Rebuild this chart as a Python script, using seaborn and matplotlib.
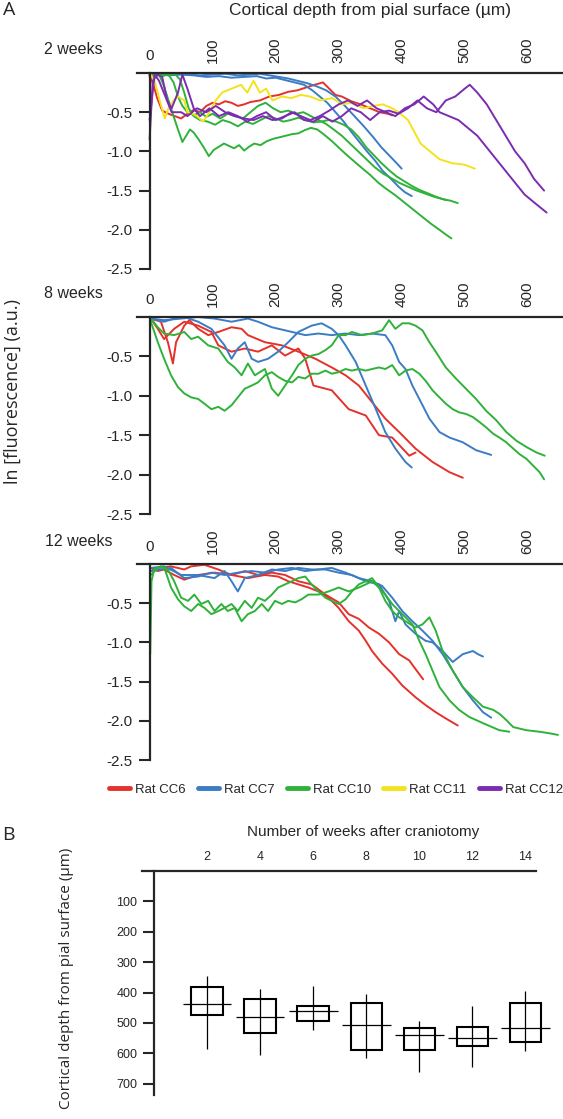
import numpy as np
import pandas as pd
import matplotlib
matplotlib.use("Agg")
import matplotlib.pyplot as plt
from matplotlib.lines import Line2D
import seaborn as sns

# ---- Panel A data: depth (um) vs ln[fluorescence] ----
rats = ["Rat CC6", "Rat CC7", "Rat CC10", "Rat CC11", "Rat CC12"]
rat_colors = ["#e4312b", "#3b7cc4", "#2fb23a", "#f4e21d", "#7a2db0"]
depth_ticks = [0, 100, 200, 300, 400, 500, 600]
ln_ticks = [-0.5, -1.0, -1.5, -2.0, -2.5]

# 2 weeks
w2_cc6 = [(0, -0.03), (6, -0.15), (12, -0.32), (20, -0.48), (30, -0.52), (40, -0.55), (50, -0.58),
          (60, -0.52), (70, -0.47), (80, -0.5), (90, -0.42), (100, -0.38), (110, -0.4), (120, -0.36),
          (130, -0.38), (140, -0.42), (150, -0.4), (160, -0.37), (175, -0.35), (190, -0.3), (205, -0.28),
          (220, -0.24), (235, -0.22), (250, -0.18), (262, -0.15), (275, -0.12), (285, -0.2), (295, -0.28),
          (305, -0.3), (320, -0.36), (335, -0.4), (350, -0.45), (365, -0.5), (378, -0.52), (385, -0.54)]
w2_cc7_a = [(0, -0.02), (15, -0.01), (30, -0.03), (50, -0.02), (70, -0.03), (90, -0.05), (110, -0.04),
            (130, -0.06), (150, -0.05), (170, -0.04), (185, -0.07), (200, -0.06), (215, -0.09), (230, -0.12),
            (245, -0.15), (258, -0.22), (270, -0.3), (282, -0.38), (295, -0.5), (308, -0.62), (320, -0.75),
            (333, -0.88), (345, -1.0), (358, -1.12), (370, -1.25), (383, -1.35), (395, -1.45), (405, -1.52),
            (416, -1.57)]
w2_cc7_b = [(0, -0.04), (20, -0.02), (40, -0.01), (60, -0.02), (80, -0.03), (100, -0.02), (120, -0.01),
            (140, -0.03), (160, -0.02), (175, -0.01), (190, -0.03), (205, -0.05), (220, -0.07), (235, -0.1),
            (250, -0.13), (265, -0.17), (280, -0.22), (295, -0.3), (310, -0.42), (325, -0.55), (340, -0.68),
            (355, -0.82), (368, -0.95), (380, -1.05), (392, -1.15), (400, -1.22)]
w2_cc10_a = [(0, -0.02), (8, -0.05), (15, -0.02), (22, -0.15), (30, -0.35), (38, -0.55), (45, -0.72),
             (52, -0.88), (58, -0.8), (64, -0.72), (70, -0.76), (78, -0.85), (86, -0.95), (94, -1.06),
             (102, -0.98), (110, -0.94), (118, -0.9), (126, -0.93), (134, -0.96), (142, -0.92), (150, -0.99),
             (158, -0.94), (166, -0.9), (176, -0.92), (186, -0.87), (196, -0.84), (206, -0.82), (216, -0.8),
             (226, -0.78), (236, -0.77), (246, -0.73), (256, -0.7), (266, -0.72), (276, -0.78), (288, -0.86),
             (300, -0.95), (312, -1.04), (325, -1.13), (338, -1.22), (350, -1.3), (363, -1.4), (376, -1.48),
             (390, -1.56), (404, -1.65), (418, -1.74), (432, -1.83), (446, -1.92), (460, -2.0), (470, -2.06),
             (479, -2.11)]
w2_cc10_b = [(0, -0.03), (10, -0.02), (20, -0.04), (30, -0.02), (38, -0.12), (45, -0.3), (52, -0.42),
             (60, -0.5), (70, -0.54), (80, -0.5), (90, -0.56), (100, -0.52), (112, -0.58), (124, -0.52),
             (136, -0.55), (148, -0.58), (160, -0.5), (172, -0.42), (184, -0.38), (196, -0.45), (208, -0.5),
             (220, -0.48), (232, -0.52), (244, -0.5), (256, -0.55), (268, -0.6), (280, -0.65), (292, -0.72),
             (305, -0.8), (318, -0.9), (331, -1.0), (344, -1.1), (357, -1.2), (370, -1.28), (383, -1.34),
             (396, -1.4), (410, -1.45), (424, -1.5), (438, -1.54), (452, -1.58), (466, -1.61), (478, -1.63),
             (489, -1.66)]
w2_cc10_c = [(0, -0.05), (10, -0.03), (20, -0.01), (30, -0.03), (40, -0.01), (48, -0.08), (55, -0.25),
             (62, -0.45), (70, -0.55), (80, -0.6), (92, -0.62), (104, -0.66), (116, -0.6), (128, -0.63),
             (140, -0.68), (152, -0.62), (164, -0.65), (176, -0.6), (188, -0.55), (200, -0.58), (212, -0.62),
             (224, -0.6), (236, -0.57), (248, -0.6), (260, -0.63), (272, -0.62), (284, -0.6), (296, -0.62),
             (308, -0.66), (320, -0.72), (332, -0.82), (344, -0.95), (356, -1.05), (368, -1.15), (380, -1.24),
             (392, -1.32), (404, -1.38), (416, -1.44), (428, -1.49), (440, -1.53), (452, -1.57), (462, -1.6),
             (470, -1.62)]
w2_cc11 = [(0, -0.0), (8, -0.1), (16, -0.35), (24, -0.58), (30, -0.45), (38, -0.35), (45, -0.3), (55, -0.35),
           (60, -0.5), (68, -0.52), (75, -0.55), (85, -0.62), (95, -0.5), (105, -0.35), (115, -0.25),
           (130, -0.2), (145, -0.15), (155, -0.25), (165, -0.1), (175, -0.25), (185, -0.2), (195, -0.35),
           (210, -0.3), (225, -0.32), (240, -0.28), (255, -0.3), (270, -0.35), (290, -0.32), (305, -0.4),
           (320, -0.38), (340, -0.45), (355, -0.42), (370, -0.4), (385, -0.45), (395, -0.5), (410, -0.6),
           (420, -0.75), (430, -0.9), (445, -1.0), (460, -1.1), (480, -1.15), (500, -1.17), (516, -1.22)]
w2_cc12_a = [(0, -0.85), (5, -0.1), (12, -0.02), (20, -0.05), (28, -0.35), (35, -0.45), (45, -0.25),
             (52, -0.02), (60, -0.2), (70, -0.45), (80, -0.55), (95, -0.45), (110, -0.55), (125, -0.5),
             (140, -0.55), (155, -0.62), (170, -0.55), (185, -0.5), (200, -0.6), (215, -0.55), (230, -0.5),
             (245, -0.6), (260, -0.62), (275, -0.55), (290, -0.62), (305, -0.55), (320, -0.45), (335, -0.5),
             (350, -0.6), (365, -0.5), (380, -0.48), (395, -0.52), (410, -0.45), (425, -0.35), (440, -0.45),
             (455, -0.5), (470, -0.35), (485, -0.3), (500, -0.2), (508, -0.15), (520, -0.25), (535, -0.4),
             (550, -0.6), (565, -0.8), (580, -1.0), (595, -1.15), (610, -1.35), (626, -1.5)]
w2_cc12_b = [(0, -0.6), (8, -0.02), (15, -0.1), (25, -0.3), (35, -0.5), (50, -0.5), (60, -0.55),
             (75, -0.45), (90, -0.5), (105, -0.42), (120, -0.5), (135, -0.55), (150, -0.58), (165, -0.6),
             (180, -0.55), (195, -0.6), (210, -0.58), (225, -0.5), (240, -0.55), (255, -0.6), (270, -0.55),
             (285, -0.48), (300, -0.4), (315, -0.35), (330, -0.42), (345, -0.35), (360, -0.45), (375, -0.5),
             (390, -0.55), (405, -0.45), (420, -0.4), (435, -0.3), (450, -0.4), (460, -0.5), (475, -0.55),
             (490, -0.6), (505, -0.7), (520, -0.8), (535, -0.95), (550, -1.1), (565, -1.25), (580, -1.4),
             (595, -1.55), (610, -1.65), (630, -1.78)]

# 8 weeks
w8_cc6_a = [(2, -0.02), (18, -0.06), (29, -0.32), (37, -0.59), (42, -0.32), (55, -0.11), (63, -0.04),
            (77, -0.15), (93, -0.23), (109, -0.19), (130, -0.13), (146, -0.15), (156, -0.23), (183, -0.32),
            (210, -0.36), (236, -0.44), (263, -0.53), (289, -0.64), (311, -0.74), (332, -0.87), (353, -1.08),
            (374, -1.29), (396, -1.46), (422, -1.67), (449, -1.84), (476, -1.97), (497, -2.04)]
w8_cc6_b = [(2, -0.02), (13, -0.15), (23, -0.28), (39, -0.15), (55, -0.06), (77, -0.11), (98, -0.19),
            (109, -0.36), (130, -0.44), (151, -0.4), (172, -0.44), (194, -0.36), (215, -0.49), (236, -0.4),
            (247, -0.53), (260, -0.87), (289, -0.93), (316, -1.17), (343, -1.25), (364, -1.5), (385, -1.53),
            (412, -1.76), (422, -1.72)]
w8_cc7_a = [(2, -0.02), (23, -0.04), (50, -0.02), (77, 0.0), (103, -0.02), (130, -0.06), (156, -0.02),
            (172, -0.06), (194, -0.13), (226, -0.19), (247, -0.23), (268, -0.21), (289, -0.23), (311, -0.21),
            (332, -0.23), (353, -0.21), (374, -0.23), (385, -0.36), (396, -0.57), (406, -0.66), (417, -0.87),
            (428, -1.04), (444, -1.29), (460, -1.46), (476, -1.53), (497, -1.59), (518, -1.69), (542, -1.75)]
w8_cc7_b = [(2, -0.02), (23, -0.06), (39, -0.02), (55, 0.0), (77, -0.06), (98, -0.15), (119, -0.36),
            (130, -0.53), (140, -0.4), (151, -0.32), (162, -0.53), (172, -0.57), (188, -0.53), (204, -0.44),
            (220, -0.32), (236, -0.19), (257, -0.11), (273, -0.08), (289, -0.15), (300, -0.23), (311, -0.36),
            (327, -0.57), (343, -0.87), (359, -1.17), (374, -1.46), (390, -1.67), (406, -1.84), (416, -1.91)]
w8_cc10_a = [(2, -0.06), (13, -0.32), (23, -0.53), (34, -0.74), (45, -0.89), (55, -0.97), (66, -1.02),
             (77, -1.04), (87, -1.1), (98, -1.17), (109, -1.14), (119, -1.19), (130, -1.12), (140, -1.02),
             (151, -0.91), (162, -0.87), (172, -0.83), (183, -0.74), (194, -0.7), (204, -0.76), (215, -0.81),
             (226, -0.83), (236, -0.76), (247, -0.78), (257, -0.72), (268, -0.72), (279, -0.68), (289, -0.72),
             (300, -0.7), (311, -0.66), (321, -0.68), (332, -0.66), (343, -0.68), (353, -0.66), (364, -0.64),
             (374, -0.66), (385, -0.61), (396, -0.74), (406, -0.68), (417, -0.66), (428, -0.72), (438, -0.81),
             (449, -0.93), (460, -1.02), (470, -1.1), (481, -1.17), (491, -1.21), (502, -1.23), (513, -1.27),
             (523, -1.33), (534, -1.4), (545, -1.48), (555, -1.53), (566, -1.59), (577, -1.67), (587, -1.74),
             (598, -1.8), (609, -1.89), (619, -1.97), (626, -2.06)]
w8_cc10_b = [(2, -0.02), (13, -0.13), (23, -0.21), (39, -0.23), (55, -0.19), (66, -0.28), (77, -0.25),
             (93, -0.36), (109, -0.4), (124, -0.57), (135, -0.64), (146, -0.74), (156, -0.59), (167, -0.74),
             (183, -0.66), (194, -0.91), (204, -1.0), (215, -0.87), (226, -0.74), (236, -0.61), (247, -0.53),
             (257, -0.49), (268, -0.47), (279, -0.42), (289, -0.36), (300, -0.23), (311, -0.23), (321, -0.19),
             (337, -0.23), (353, -0.21), (369, -0.17), (380, -0.04), (390, -0.15), (401, -0.08), (412, -0.08),
             (422, -0.11), (433, -0.17), (444, -0.32), (454, -0.44), (470, -0.64), (486, -0.78), (502, -0.91),
             (518, -1.04), (534, -1.19), (550, -1.31), (566, -1.46), (582, -1.57), (598, -1.65), (614, -1.72),
             (627, -1.76)]

# 12 weeks
w12_cc6_a = [(2, -0.05), (13, -0.09), (23, -0.07), (39, -0.14), (55, -0.2), (77, -0.14), (103, -0.11),
             (130, -0.14), (156, -0.18), (183, -0.14), (204, -0.16), (220, -0.22), (236, -0.26), (252, -0.3),
             (268, -0.35), (284, -0.43), (300, -0.56), (316, -0.73), (332, -0.85), (343, -0.98), (353, -1.11),
             (369, -1.27), (385, -1.4), (401, -1.55), (422, -1.7), (438, -1.8), (454, -1.89), (470, -1.97),
             (489, -2.06)]
w12_cc6_b = [(2, -0.09), (13, -0.05), (34, -0.03), (55, -0.07), (66, -0.03), (87, -0.01), (109, -0.07),
             (130, -0.14), (151, -0.09), (172, -0.14), (194, -0.11), (215, -0.14), (236, -0.22), (257, -0.26),
             (279, -0.39), (300, -0.49), (316, -0.64), (332, -0.7), (348, -0.81), (364, -0.89), (380, -1.0),
             (396, -1.15), (412, -1.23), (422, -1.34), (434, -1.47)]
w12_cc7_a = [(2, -0.05), (23, -0.03), (50, -0.14), (77, -0.14), (103, -0.18), (119, -0.09), (130, -0.22),
             (140, -0.35), (151, -0.18), (172, -0.14), (194, -0.07), (215, -0.09), (236, -0.05), (257, -0.07),
             (279, -0.07), (300, -0.11), (321, -0.14), (343, -0.22), (364, -0.26), (380, -0.47), (390, -0.73),
             (396, -0.6), (406, -0.77), (422, -0.89), (438, -0.98), (449, -1.0), (465, -1.11), (481, -1.25),
             (497, -1.15), (513, -1.11), (521, -1.15), (529, -1.18)]
w12_cc7_b = [(2, -0.09), (34, -0.05), (55, -0.18), (77, -0.16), (98, -0.11), (119, -0.14), (140, -0.11),
             (162, -0.09), (183, -0.11), (204, -0.07), (226, -0.05), (247, -0.09), (268, -0.07), (289, -0.05),
             (311, -0.11), (332, -0.18), (353, -0.22), (369, -0.28), (385, -0.43), (401, -0.6), (417, -0.73),
             (433, -0.85), (449, -0.98), (465, -1.15), (481, -1.36), (497, -1.57), (513, -1.74), (529, -1.89),
             (542, -1.96)]
w12_cc10_a = [(1, -1.15), (3, -0.22), (7, -0.07), (18, -0.03), (29, -0.07), (39, -0.22), (50, -0.43),
              (61, -0.47), (71, -0.39), (82, -0.51), (93, -0.47), (103, -0.6), (114, -0.51), (124, -0.6),
              (135, -0.56), (146, -0.73), (156, -0.64), (167, -0.6), (178, -0.51), (188, -0.6), (199, -0.47),
              (210, -0.51), (220, -0.47), (231, -0.49), (241, -0.45), (252, -0.39), (268, -0.39), (284, -0.35),
              (300, -0.3), (316, -0.35), (332, -0.3), (343, -0.26), (353, -0.22), (364, -0.3), (374, -0.39),
              (385, -0.51), (396, -0.6), (406, -0.68), (417, -0.77), (428, -0.98), (438, -1.15), (449, -1.36),
              (460, -1.57), (476, -1.74), (491, -1.86), (507, -1.95), (529, -2.03), (555, -2.12), (571, -2.14)]
w12_cc10_b = [(2, -0.14), (13, -0.05), (23, -0.04), (34, -0.3), (45, -0.45), (55, -0.54), (66, -0.6),
              (77, -0.51), (87, -0.56), (98, -0.64), (109, -0.6), (119, -0.56), (130, -0.51), (140, -0.6),
              (151, -0.47), (162, -0.56), (172, -0.43), (183, -0.47), (194, -0.39), (204, -0.3), (215, -0.26),
              (226, -0.22), (236, -0.18), (247, -0.16), (257, -0.26), (268, -0.35), (279, -0.43), (289, -0.47),
              (300, -0.51), (311, -0.45), (321, -0.35), (332, -0.26), (343, -0.22), (353, -0.18), (364, -0.3),
              (374, -0.47), (385, -0.6), (396, -0.68), (406, -0.73), (422, -0.81), (433, -0.77), (444, -0.68),
              (454, -0.85), (465, -1.11), (481, -1.36), (497, -1.57), (513, -1.7), (529, -1.82), (545, -1.86),
              (555, -1.91), (566, -1.99), (577, -2.08), (598, -2.12), (619, -2.14), (635, -2.16), (648, -2.18)]

panel_names = ["2 weeks", "8 weeks", "12 weeks"]
panel_traces = {
    "2 weeks": [("Rat CC6", w2_cc6), ("Rat CC7", w2_cc7_a), ("Rat CC7", w2_cc7_b),
                ("Rat CC10", w2_cc10_a), ("Rat CC10", w2_cc10_b), ("Rat CC10", w2_cc10_c),
                ("Rat CC11", w2_cc11), ("Rat CC12", w2_cc12_a), ("Rat CC12", w2_cc12_b)],
    "8 weeks": [("Rat CC6", w8_cc6_a), ("Rat CC6", w8_cc6_b), ("Rat CC7", w8_cc7_a), ("Rat CC7", w8_cc7_b),
                ("Rat CC10", w8_cc10_a), ("Rat CC10", w8_cc10_b)],
    "12 weeks": [("Rat CC6", w12_cc6_a), ("Rat CC6", w12_cc6_b), ("Rat CC7", w12_cc7_a), ("Rat CC7", w12_cc7_b),
                 ("Rat CC10", w12_cc10_a), ("Rat CC10", w12_cc10_b)],
}

# ---- Panel B data: depth of fluorescence drop per week (um) ----
weeks = [2, 4, 6, 8, 10, 12, 14]
box_top = [383, 420, 444, 435, 517, 512, 433]
box_bottom = [474, 532, 495, 590, 590, 577, 562]
median_depth = [438, 479, 462, 507, 539, 548, 515]
whisker_top = [344, 388, 380, 406, 495, 444, 396]
whisker_bottom = [585, 604, 523, 615, 661, 645, 593]
depth_b_ticks = [100, 200, 300, 400, 500, 600, 700]

# long-form table for seaborn
rows = []
for panel in panel_names:
    for i, (rat, pts) in enumerate(panel_traces[panel]):
        for d, v in pts:
            rows.append({"panel": panel, "rat": rat, "trace": f"{rat}-{i}", "depth": d, "ln_f": v})
df = pd.DataFrame(rows)

sns.set_style("white")
plt.rcParams["font.family"] = ["Liberation Sans", "DejaVu Sans"]
plt.rcParams["axes.linewidth"] = 1.6

W, H = 563, 1119
fig = plt.figure(figsize=(W / 100, H / 100), dpi=100)


def add_ax(x0, top, x1, bottom):
    return fig.add_axes([x0 / W, 1 - bottom / H, (x1 - x0) / W, (bottom - top) / H])


palette = dict(zip(rats, rat_colors))

# panel A: three stacked line panels
tops = [73, 317, 564]
bottoms = [269, 514, 760]
label_pos = [(73, 49), (73, 294), (79, 541)]
for panel, top, bot, (lx, ly) in zip(panel_names, tops, bottoms, label_pos):
    ax = add_ax(137, top, 563, bot)
    sub = df[df["panel"] == panel]
    sns.lineplot(data=sub, x="depth", y="ln_f", hue="rat", units="trace", estimator=None,
                 sort=False, palette=palette, linewidth=1.4, legend=False, ax=ax)
    ax.set_xlim(-20, 656)
    ax.set_ylim(-2.5, 0)
    ax.spines["left"].set_position(("data", 0))
    ax.spines["right"].set_visible(False)
    ax.spines["bottom"].set_visible(False)
    ax.xaxis.tick_top()
    ax.set_xticks(depth_ticks)
    ax.set_xticklabels([str(t) for t in depth_ticks])
    ax.tick_params(axis="x", length=0, pad=7, labelsize=11)
    for lbl in ax.get_xticklabels()[1:]:
        lbl.set_rotation(90)
    ax.set_yticks(ln_ticks)
    ax.set_yticklabels([f"{t:.1f}" for t in ln_ticks])
    ax.tick_params(axis="y", length=8, width=1.5, pad=4, labelsize=11, direction="out", left=True)
    ax.set_xlabel("")
    ax.set_ylabel("")
    fig.text(lx / W, 1 - ly / H, panel, fontsize=11.5, ha="center", va="center")

fig.text(9 / W, 1 - 10 / H, "A", fontsize=14, family="Open Sans", ha="center", va="center")
fig.text(370 / W, 1 - 11 / H, "Cortical depth from pial surface (\u00b5m)", fontsize=12.5,
         ha="center", va="center")
fig.text(13 / W, 1 - 392 / H, "ln [fluorescence] (a.u.)", rotation=90, fontsize=13,
         family="Open Sans", ha="center", va="center")

handles = [Line2D([0], [0], color=c, lw=3.5) for c in rat_colors]
fig.legend(handles, rats, loc="center", bbox_to_anchor=(336 / W, 1 - 790 / H), ncol=5,
           frameon=False, fontsize=9.5, handlelength=1.6, handletextpad=0.4, columnspacing=0.9)

# panel B: depth of fluorescence decay vs weeks after craniotomy
axb = add_ax(142, 871, 536, 1095)
wk = np.array(weeks)
axb.bar(wk, np.array(box_bottom) - np.array(box_top), bottom=box_top, width=1.18,
        fill=False, edgecolor="black", linewidth=1.5, clip_on=False)
axb.vlines(wk, whisker_top, whisker_bottom, color="black", linewidth=0.9, clip_on=False)
axb.hlines(median_depth, wk - 0.92, wk + 0.92, color="black", linewidth=0.9, clip_on=False)
axb.set_xlim(-0.45, 14.4)
axb.set_ylim(737, 0)
axb.spines["left"].set_position(("data", 0))
axb.spines["right"].set_visible(False)
axb.spines["bottom"].set_visible(False)
axb.xaxis.tick_top()
axb.set_xticks(weeks)
axb.tick_params(axis="x", length=0, pad=6, labelsize=9)
axb.set_yticks(depth_b_ticks)
axb.tick_params(axis="y", length=8, width=1.5, pad=4, labelsize=9, direction="out", left=True)

fig.text(8 / W, 1 - 835 / H, "B", fontsize=14, family="Open Sans", ha="center", va="center")
fig.text(363 / W, 1 - 832 / H, "Number of weeks after craniotomy", fontsize=11,
         ha="center", va="center")
fig.text(67 / W, 1 - 978 / H, "Cortical depth from pial surface (\u00b5m)", rotation=90,
         fontsize=11, family="Open Sans", ha="center", va="center")

fig.savefig("out.png", dpi=100)
